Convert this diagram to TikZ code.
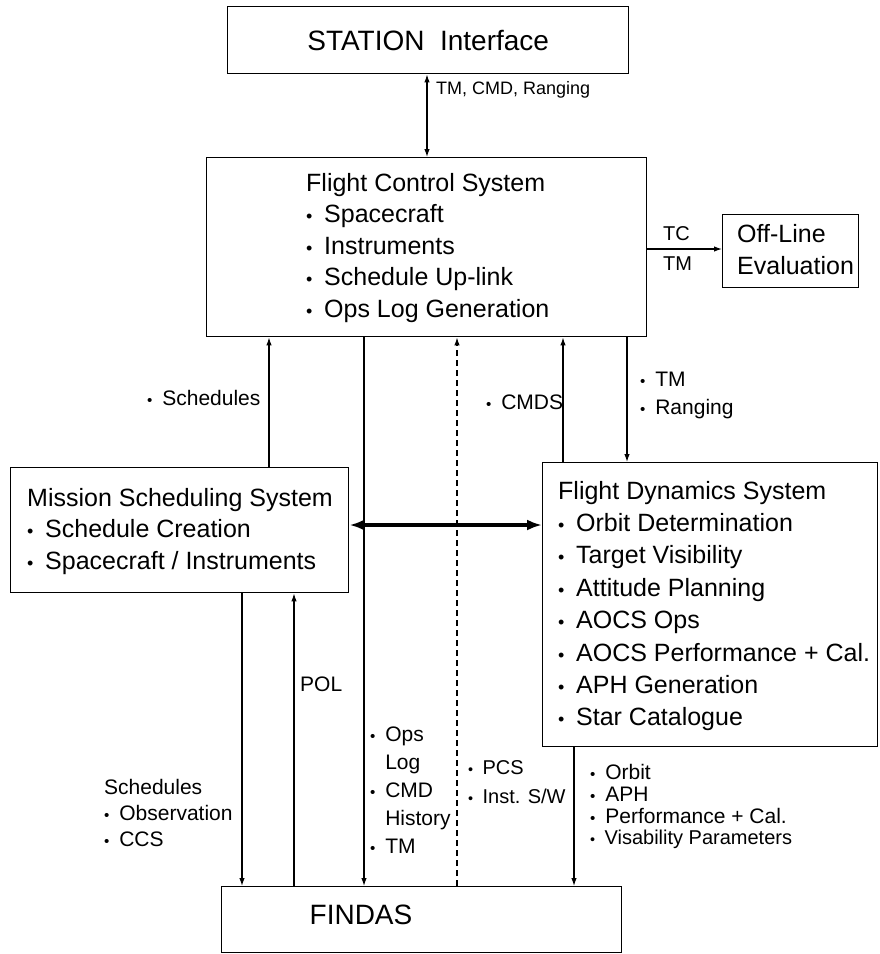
\documentclass[tikz,border=0pt]{standalone}
\usepackage{fontspec}
\setmainfont{Liberation Sans}
\usetikzlibrary{arrows.meta}
\newcommand\bul{\makebox[0.72em][l]{\scalebox{0.72}{•}}}
\newcommand\bulsp{\hspace*{0.72em}}
\begin{document}
\begin{tikzpicture}[x=1pt,y=-1pt,
  box/.style={draw, line width=1.4pt, inner sep=0pt, anchor=north west},
  conn/.style={line width=1.2pt, -{Latex[length=8pt,width=5.5pt]}},
  biconn/.style={line width=1.2pt, {Latex[length=8pt,width=5.5pt]}-{Latex[length=8pt,width=5.5pt]}},
  thick2/.style={line width=3.2pt, {Latex[length=15pt,width=11pt]}-{Latex[length=15pt,width=11pt]}},
  dashconn/.style={conn, dash pattern=on 6pt off 4pt},
  big/.style={font=\fontsize{28}{34}\selectfont, inner sep=0pt},
  mid/.style={font=\fontsize{25}{31.5}\selectfont, inner sep=0pt, align=left, anchor=north west},
  sm/.style={font=\fontsize{21}{28}\selectfont, inner sep=0pt, align=left},
]
\useasboundingbox (0,0) rectangle (879,954);

% boxes
\node[box, minimum width=401pt, minimum height=67pt] (station) at (227,6) {};
\node[big] (stationtxt) at (station.center) {STATION\ \ Interface};
\node[box, minimum width=440pt, minimum height=179pt] (fcs) at (206,157) {};
\node[box, minimum width=136pt, minimum height=73pt] (offline) at (722,214) {};
\node[box, minimum width=338pt, minimum height=125pt] (mss) at (10,467) {};
\node[box, minimum width=335pt, minimum height=284pt] (fds) at (542,462) {};
\node[box, minimum width=400pt, minimum height=66pt] (findas) at (221,886) {};
\node[big] (findastxt) at (361,915) {FINDAS};

% box texts
\node[mid] (fcstxt) at (306,172.75) {Flight Control System\\\bul Spacecraft\\\bul Instruments\\\bul Schedule Up-link\\\bul Ops Log Generation};
\node[mid, font=\fontsize{25}{32}\selectfont] (offtxt) at (737,223.75) {Off-Line\\Evaluation};
\node[mid] (msstxt) at (27,487.75) {Mission Scheduling System\\\bul Schedule Creation\\\bul Spacecraft / Instruments};
\node[mid, font=\fontsize{25}{32.4}\selectfont] (fdstxt) at (558,480.75) {Flight Dynamics System\\\bul Orbit Determination\\\bul Target Visibility\\\bul Attitude Planning\\\bul AOCS Ops\\\bul AOCS Performance + Cal.\\\bul APH Generation\\\bul Star Catalogue};

% x / y positions of connectors
\coordinate (xA) at (427,0);
\coordinate (xSch) at (269,0);
\coordinate (xOps) at (364,0);
\coordinate (xPcs) at (457,0);
\coordinate (xCmds) at (563,0);
\coordinate (xTm) at (627,0);
\coordinate (xMF) at (242,0);
\coordinate (xPol) at (294,0);
\coordinate (xFdF) at (574,0);
\coordinate (yOff) at (0,249);
\coordinate (yH) at (0,525);

% connectors
\draw[biconn] (xA |- station.south) -- (xA |- fcs.north);
\draw[conn] (fcs.east |- yOff) -- (offline.west |- yOff);
\draw[conn] (xSch |- mss.north) -- (xSch |- fcs.south);
\draw[conn] (xOps |- fcs.south) -- (xOps |- findas.north);
\draw[dashconn] (xPcs |- findas.north) -- (xPcs |- fcs.south);
\draw[conn] (xCmds |- fds.north) -- (xCmds |- fcs.south);
\draw[conn] (xTm |- fcs.south) -- (xTm |- fds.north);
\draw[thick2] (mss.east |- yH) -- (fds.west |- yH);
\draw[conn] (xMF |- mss.south) -- (xMF |- findas.north);
\draw[conn] (xPol |- findas.north) -- (xPol |- mss.south);
\draw[conn] (xFdF |- fds.south) -- (xFdF |- findas.north);

% connector labels
\node[sm, font=\fontsize{18}{22}\selectfont, anchor=base west] (lblstation) at (436,94.5) {TM, CMD, Ranging};
\node[sm, font=\fontsize{20}{24}\selectfont, anchor=base west] (lbltc) at (663,240.2) {TC};
\node[sm, font=\fontsize{20}{24}\selectfont, anchor=base west] (lbltm) at (663,270.2) {TM};
\node[sm, anchor=base west] (lblsch) at (147,405.6) {\bul Schedules};
\node[sm, anchor=base west] (lblcmds) at (486,409.6) {\bul CMDS};
\node[sm, anchor=north west] (lbltmr) at (640,372.2) {\bul TM\\\bul Ranging};
\node[sm, anchor=base west] (lblpol) at (300,691.6) {POL};
\node[sm, font=\fontsize{21}{26}\selectfont, anchor=north west] (lblschobs) at (104,779.2) {Schedules\\\bul Observation\\\bul CCS};
\node[sm, anchor=north west] (lblops) at (370,726.2) {\bul Ops\\\bulsp Log\\\bul CMD\\\bulsp History\\\bul TM};
\node[sm, font=\fontsize{20}{29}\selectfont, anchor=north west] (lblpcs) at (468,760.6) {\bul PCS\\\bul Inst. S/W};
\node[sm, font=\fontsize{21}{21.7}\selectfont, anchor=north west] (lblorbit) at (590,764.2) {\bul Orbit\\\bul APH\\\bul Performance + Cal.\\{\fontsize{20}{21.7}\selectfont\bul Visability Parameters}};
\end{tikzpicture}
\end{document}
